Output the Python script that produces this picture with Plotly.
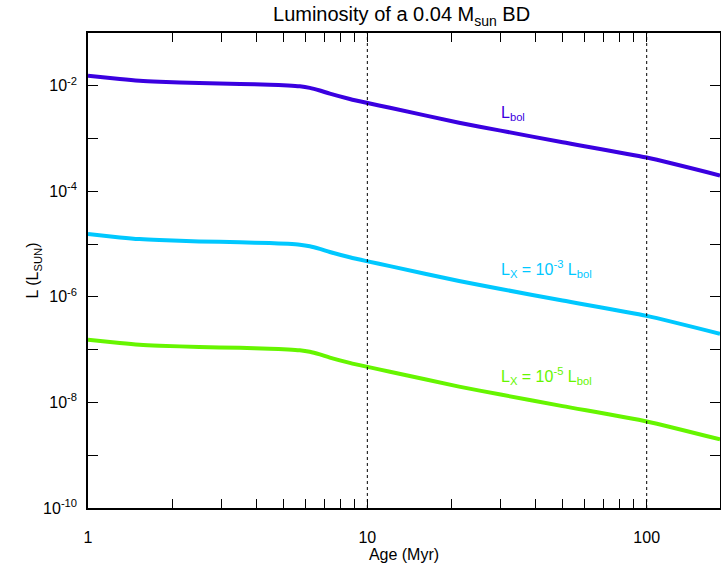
import plotly.graph_objects as go
import numpy as np

age_myr = [1, 1.3, 1.53, 1.8, 2.5, 3.5, 4.47, 5.2, 5.73, 6.22, 6.76, 7.34, 8.65, 9.93, 12.05,
           21.3, 30, 50, 100, 183]
log_lbol = [-1.81, -1.873, -1.905, -1.924, -1.949, -1.965, -1.981, -1.995, -2.011, -2.040, -2.090,
            -2.150, -2.250, -2.322, -2.417, -2.70, -2.85, -3.07, -3.36, -3.70]
log_lx3 = [-4.81, -4.873, -4.905, -4.924, -4.949, -4.965, -4.981, -4.995, -5.011, -5.040, -5.090,
           -5.150, -5.250, -5.322, -5.417, -5.70, -5.85, -6.07, -6.36, -6.70]
log_lx5 = [-6.81, -6.873, -6.905, -6.924, -6.949, -6.965, -6.981, -6.995, -7.011, -7.040, -7.090,
           -7.150, -7.250, -7.322, -7.417, -7.70, -7.85, -8.07, -8.36, -8.70]

series_names = ["L<sub>bol</sub>", "L<sub>X</sub> = 10<sup>-3</sup> L<sub>bol</sub>",
                "L<sub>X</sub> = 10<sup>-5</sup> L<sub>bol</sub>"]
series_colors = ["#3a00e0", "#00c8ff", "#66f500"]
label_pos_age = [29.5, 29.5, 29.5]
label_pos_log = [-2.52, -5.475, -7.50]
marker_ages = [10, 100]

x_tickvals = [1, 2, 3, 4, 5, 6, 7, 8, 9, 10, 20, 30, 40, 50, 60, 70, 80, 90, 100]
x_ticktext = ["1"] + [""] * 8 + ["10"] + [""] * 8 + ["100"]
y_tickvals = [10.0 ** e for e in range(-10, 0)]
y_ticktext = [("10<sup>%d</sup>" % e) if e % 2 == 0 else "" for e in range(-10, 0)]

FONT = "Liberation Sans, Arial, sans-serif"

fig = go.Figure()
for logs, col, name in zip([log_lbol, log_lx3, log_lx5], series_colors, series_names):
    fig.add_trace(go.Scatter(x=age_myr, y=[10.0 ** v for v in logs], mode="lines",
                             line=dict(color=col, width=4, shape="spline", smoothing=0.6),
                             name=name, showlegend=False, hoverinfo="skip"))

for a in marker_ages:
    fig.add_vline(x=a, line=dict(color="black", width=1, dash="dot"))

for name, col, xa, yl in zip(series_names, series_colors, label_pos_age, label_pos_log):
    fig.add_annotation(x=np.log10(xa), y=yl, text=name, showarrow=False, xanchor="left",
                       yanchor="middle", font=dict(color=col, size=16, family=FONT))

fig.update_layout(
    width=721, height=573,
    margin=dict(l=88, r=1, t=33, b=65),
    plot_bgcolor="white", paper_bgcolor="white",
    font=dict(family=FONT, color="black", size=15),
    title=dict(text="Luminosity of a 0.04 M<sub>sun</sub> BD", x=0.557, xanchor="center",
               y=0.975, yanchor="middle", font=dict(size=20, family=FONT)),
)
fig.update_xaxes(type="log", range=[0, np.log10(183)], showgrid=False, zeroline=False,
                 showline=True, linecolor="black", linewidth=1.5, mirror="allticks",
                 ticks="inside", ticklen=9, tickcolor="black", tickwidth=1,
                 tickvals=x_tickvals, ticktext=x_ticktext, ticklabelstandoff=14,
                 tickfont=dict(size=16), automargin=False,
                 title=dict(text="Age (Myr)", standoff=4, font=dict(size=16)))
fig.update_yaxes(type="log", range=[-10, -1], showgrid=False, zeroline=False,
                 showline=True, linecolor="black", linewidth=1.5, mirror="allticks",
                 ticks="inside", ticklen=10, tickcolor="black", tickwidth=1,
                 tickvals=y_tickvals, ticktext=y_ticktext, tickfont=dict(size=16),
                 ticklabelstandoff=6, automargin=False,
                 title=dict(text="L (L<sub>SUN</sub>)", standoff=0, font=dict(size=16)))

fig.write_html("out.html", config={"displayModeBar": False},
               post_script="document.body.style.margin='0';document.body.style.overflow='hidden';")
